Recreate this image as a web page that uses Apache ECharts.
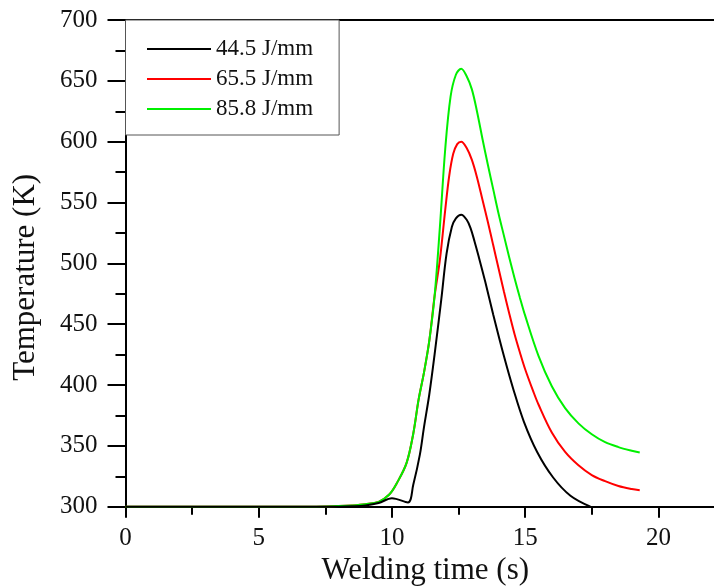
<!DOCTYPE html>
<html>
<head>
<meta charset="utf-8">
<script src="https://cdn.jsdelivr.net/npm/echarts@6/dist/echarts.min.js"></script>
<style>
  html, body { margin: 0; padding: 0; background: #fff; }
  #chart { width: 714px; height: 586px; }
</style>
</head>
<body>
<div id="chart"></div>
<script>
// Thermal cycles at three heat inputs: temperature (K) against welding time (s)
const seriesNames = ['44.5 J/mm', '65.5 J/mm', '85.8 J/mm'];

const timeLow = [0, 4, 7, 8, 8.5, 9, 9.5, 10, 10.6, 10.8, 11.05, 11.2, 11.4, 11.6, 11.85,
  12.05, 12.25, 12.4, 12.6, 12.8, 12.95, 13.1, 13.25, 13.5, 13.8, 14.2, 14.55, 14.95,
  15.45, 16.05, 16.7, 17.45];
const tempLow = [300, 300, 300, 300, 300.3, 301, 303, 307, 303.5, 318, 343, 365, 392, 425, 470,
  508, 530, 537, 540, 536, 529, 518, 506, 485, 458, 424, 397, 370,
  345, 324, 309, 300];

const timeMid = [0, 4, 7, 8, 8.5, 9, 9.5, 9.9, 10.2, 10.55, 10.8, 11.0, 11.2, 11.4, 11.6,
  11.8, 12.0, 12.15, 12.3, 12.45, 12.6, 12.8, 13.0, 13.2, 13.4, 13.6, 13.8, 14.0, 14.2,
  14.4, 14.6, 14.8, 15.0, 15.3, 15.5, 16.0, 16.5, 17.0, 17.5, 18.0, 18.5, 19.0, 19.3];
const tempMid = [300, 300, 300, 300.5, 301, 302, 304, 310, 320, 336, 360, 388, 410, 436, 473,
  503, 544, 572, 590, 598, 600, 595, 585, 570, 552, 534, 515, 496, 477,
  459, 442, 427, 413, 395, 384, 361, 345, 334, 326, 321, 317, 314.5, 313.5];

const timeHigh = [0, 4, 7, 8, 8.5, 9, 9.5, 9.9, 10.2, 10.55, 10.8, 11.0, 11.2, 11.4, 11.6,
  11.8, 12.0, 12.2, 12.4, 12.6, 12.8, 13.0, 13.2, 13.4, 13.6, 13.8, 14.0, 14.2, 14.4,
  14.6, 14.8, 15.0, 15.5, 16.0, 16.5, 17.0, 17.5, 18.0, 18.5, 19.0, 19.3];
const tempHigh = [300, 300, 300, 300.5, 301, 302, 304, 310, 320, 336, 360, 388, 410, 436, 473,
  530, 594, 637, 655, 660, 654, 643, 624, 602, 581, 561, 541, 523, 505,
  488, 472, 457, 424, 399, 381, 368.5, 359.5, 353, 349, 346, 344.5];

const xTicks = { min: 0, max: 22.5, interval: 5 };
const yTicks = { min: 300, max: 700, interval: 50 };

const colors = ['#000000', '#ff0000', '#00f000'];
const drawOrder = [4, 2, 3];
const serifFont = '"Liberation Serif", "Times New Roman", serif';

function pairs(xs, ys) { return xs.map((x, i) => [x, ys[i]]); }

const chart = echarts.init(document.getElementById('chart'), null, { renderer: 'canvas' });

const lineSeries = [pairs(timeLow, tempLow), pairs(timeMid, tempMid), pairs(timeHigh, tempHigh)]
  .map((data, i) => ({
    name: seriesNames[i],
    type: 'line',
    data: data,
    showSymbol: false,
    symbol: 'none',
    smooth: 0.35,
    clip: false,
    lineStyle: { color: colors[i], width: 2 },
    itemStyle: { color: colors[i] },
    z: drawOrder[i]
  }));

chart.setOption({
  animation: false,
  backgroundColor: '#ffffff',
  grid: {
    left: 125.5, top: 20, right: -11, bottom: 79.3,
    containLabel: false, outerBoundsMode: 'none'
  },
  legend: {
    orient: 'vertical',
    left: 125.5,
    top: 20,
    padding: [17, 26, 14, 21.5],
    icon: 'rect',
    itemWidth: 64,
    itemHeight: 2,
    itemGap: 6,
    borderColor: '#555555',
    borderWidth: 1,
    backgroundColor: '#ffffff',
    textStyle: { fontFamily: serifFont, fontSize: 23, color: '#111111', lineHeight: 24 },
    data: seriesNames.map(n => ({ name: n }))
  },
  xAxis: [{
    type: 'value',
    position: 'bottom',
    min: xTicks.min, max: xTicks.max, interval: xTicks.interval,
    name: 'Welding time (s)',
    nameLocation: 'middle',
    nameGap: 37,
    nameTextStyle: { fontFamily: serifFont, fontSize: 31, color: '#111111' },
    axisLine: { show: true, onZero: false, lineStyle: { color: '#000', width: 2 } },
    axisTick: { show: true, inside: false, length: 11, lineStyle: { color: '#000', width: 2 } },
    minorTick: { show: true, splitNumber: 2, length: 8, lineStyle: { color: '#000', width: 2 } },
    axisLabel: { show: true, margin: 19, fontFamily: serifFont, fontSize: 25, color: '#111111', showMaxLabel: false },
    splitLine: { show: false }
  }, {
    type: 'value',
    position: 'top',
    min: xTicks.min, max: xTicks.max,
    axisLine: { show: true, onZero: false, lineStyle: { color: '#000', width: 2 } },
    axisTick: { show: false },
    axisLabel: { show: false },
    splitLine: { show: false }
  }],
  yAxis: [{
    type: 'value',
    min: yTicks.min, max: yTicks.max, interval: yTicks.interval,
    name: 'Temperature (K)',
    nameLocation: 'middle',
    nameGap: 84,
    nameTextStyle: { fontFamily: serifFont, fontSize: 31, color: '#111111', padding: [0, 28, 0, 0] },
    axisLine: { show: true, onZero: false, lineStyle: { color: '#000', width: 2 } },
    axisTick: { show: true, inside: false, length: 18, lineStyle: { color: '#000', width: 2 } },
    minorTick: { show: true, splitNumber: 2, length: 10, lineStyle: { color: '#000', width: 2 } },
    axisLabel: { show: true, margin: 28, fontFamily: serifFont, fontSize: 25, color: '#111111' },
    splitLine: { show: false }
  }],
  series: lineSeries
});
</script>
</body>
</html>
